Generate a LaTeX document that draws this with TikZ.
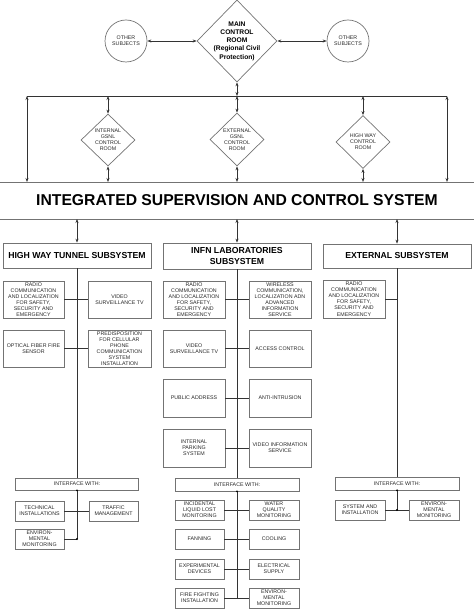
\documentclass[tikz,border=0pt]{standalone}
\usepackage{fontspec}
\setmainfont{Liberation Sans}
\usetikzlibrary{shapes.geometric,arrows.meta}
\begin{document}
\begin{tikzpicture}[x=1pt,y=-1pt,
  box/.style={draw=black!55, line width=0.7pt, align=center, inner sep=0pt, font=\fontsize{5.3}{6.1}\selectfont, text=black!85},
  subbox/.style={box, font=\fontsize{8.7}{10.5}\selectfont\bfseries, text=black},
  dia/.style={draw=black!55, line width=0.7pt, diamond, inner sep=0pt},
  lbl/.style={align=center, inner sep=0pt, font=\fontsize{5.3}{6.1}\selectfont, text=black!85},
  link/.style={draw=black!80, line width=0.8pt},
  dbl/.style={link, {Stealth[length=4pt,width=3pt]}-{Stealth[length=4pt,width=3pt]}},
  jdot/.style={circle, fill=black, inner sep=0pt, minimum size=2.2pt}
]
\useasboundingbox (0,0) rectangle (474,609);

% ---------- top ----------
\node[dia, minimum width=80pt, minimum height=82pt] (main) at (237,41) {};
\node[lbl, font=\fontsize{6.7}{8.3}\selectfont\bfseries, text=black] (maint) at (main.center) {MAIN\\CONTROL\\ROOM\\(Regional Civil\\Protection)};
\node[box, circle, minimum size=42pt] (os1) at (126,41) {OTHER\\SUBJECTS};
\node[box, circle, minimum size=42pt] (os2) at (348,41) {OTHER\\SUBJECTS};
\draw[dbl] (os1.east) -- (main.west);
\draw[dbl] (main.east) -- (os2.west);

\coordinate (busL) at (27,96);
\coordinate (busR) at (447,96);
\coordinate (busC) at (237,96);
\draw[link] (busL) -- (busR);
\draw[dbl] (main.south) -- (busC);

\node[dia, minimum width=54pt, minimum height=52pt] (d1) at (108,140) {};
\node[lbl] (d1t) at (d1.center) {INTERNAL\\GSNL\\CONTROL\\ROOM};
\node[dia, minimum width=54pt, minimum height=53pt] (d2) at (237,139.5) {};
\node[lbl] (d2t) at (d2.center) {EXTERNAL\\GSNL\\CONTROL\\ROOM};
\node[dia, minimum width=54pt, minimum height=53pt] (d3) at (363,142) {};
\node[lbl] (d3t) at (d3.center) {HIGH WAY\\CONTROL\\ROOM};

% band
\coordinate (bTL) at (0,182);
\coordinate (bTR) at (474,182);
\coordinate (bBL) at (0,219);
\coordinate (bBR) at (474,219);
\draw[draw=black!55, line width=0.8pt] (bTL) -- (bTR);
\draw[draw=black!55, line width=0.8pt] (bBL) -- (bBR);
\node[inner sep=0pt, font=\fontsize{15.7}{18}\selectfont\bfseries] (title) at (237,200.5) {INTEGRATED SUPERVISION AND CONTROL SYSTEM};

\draw[dbl] (busL) -- (busL |- bTL);
\draw[dbl] (busR) -- (busR |- bTL);
\draw[dbl] (d1.north |- busC) -- (d1.north);
\draw[dbl] (d2.north |- busC) -- (d2.north);
\draw[dbl] (d3.north |- busC) -- (d3.north);
\draw[dbl] (d1.south) -- (d1.south |- bTL);
\draw[dbl] (d2.south) -- (d2.south |- bTL);
\draw[dbl] (d3.south) -- (d3.south |- bTL);

% ---------- subsystems ----------
\node[subbox, minimum width=148pt, minimum height=25pt] (hwt) at (77,255.5) {HIGH WAY TUNNEL SUBSYSTEM};
\node[subbox, minimum width=148pt, minimum height=26pt] (infn) at (237,256) {INFN LABORATORIES\\SUBSYSTEM};
\node[subbox, minimum width=148pt, minimum height=24pt] (ext) at (397,256) {EXTERNAL SUBSYSTEM};
\draw[dbl] (hwt.north |- bBL) -- (hwt.north);
\draw[dbl] (infn.north |- bBL) -- (infn.north);
\draw[dbl] (ext.north |- bBL) -- (ext.north);

% ---------- high way tunnel column ----------
\node[box, minimum width=61pt, minimum height=37pt] (h1) at (33.5,299.5) {RADIO\\COMMUNICATION\\AND LOCALIZATION\\FOR SAFETY,\\SECURITY AND\\EMERGENCY};
\node[box, minimum width=63pt, minimum height=37pt] (h2) at (119.5,299.5) {VIDEO\\SURVEILLANCE TV};
\node[box, minimum width=61pt, minimum height=37pt] (h3) at (33.5,348.5) {OPTICAL FIBER FIRE\\SENSOR};
\node[box, minimum width=63pt, minimum height=37pt] (h4) at (119.5,348.5) {PREDISPOSITION\\FOR CELLULAR\\PHONE\\COMMUNICATION\\SYSTEM\\INSTALLATION};
\node[box, minimum width=123pt, minimum height=12pt] (hI) at (77,484) {INTERFACE WITH:};
\node[box, minimum width=49pt, minimum height=20pt] (h5) at (39.5,511) {TECHNICAL\\INSTALLATIONS};
\node[box, minimum width=49pt, minimum height=20pt] (h6) at (113.5,511) {TRAFFIC\\MANAGEMENT};
\node[box, minimum width=49pt, minimum height=20pt] (h7) at (39.5,539) {ENVIRON-\\MENTAL\\MONITORING};
\coordinate (hJ) at (77,539);
\draw[link] (hwt.south) -- (hI.north);
\draw[link] (hI.south) -- (hJ);
\draw[link] (h1.east) -- (h2.west);
\draw[link] (h3.east) -- (h4.west);
\draw[link] (h5.east) -- (h6.west);
\draw[link] (h7.east) -- (hJ);
\node[jdot] (hd1) at (hI.south) {};
\node[jdot] (hd2) at (hJ) {};

% ---------- INFN column ----------
\node[box, minimum width=62pt, minimum height=37pt] (m1) at (194,299.5) {RADIO\\COMMUNICATION\\AND LOCALIZATION\\FOR SAFETY,\\SECURITY AND\\EMERGENCY};
\node[box, minimum width=62pt, minimum height=37pt] (m2) at (280,299.5) {WIRELESS\\COMMUNICATION,\\LOCALIZATION ADN\\ADVANCED\\INFORMATION\\SERVICE};
\node[box, minimum width=62pt, minimum height=37pt] (m3) at (194,348.5) {VIDEO\\SURVEILLANCE TV};
\node[box, minimum width=62pt, minimum height=37pt] (m4) at (280,348.5) {ACCESS CONTROL};
\node[box, minimum width=62pt, minimum height=38pt] (m5) at (194,398) {PUBLIC ADDRESS};
\node[box, minimum width=62pt, minimum height=38pt] (m6) at (280,398) {ANTI-INTRUSION};
\node[box, minimum width=62pt, minimum height=38pt] (m7) at (194,448) {INTERNAL\\PARKING\\SYSTEM};
\node[box, minimum width=62pt, minimum height=38pt] (m8) at (280,448) {VIDEO INFORMATION\\SERVICE};
\node[box, minimum width=124pt, minimum height=13pt] (mI) at (237,484.5) {INTERFACE WITH:};
\node[box, minimum width=49pt, minimum height=20pt] (n1) at (199.5,510) {INCIDENTAL\\LIQUID LOST\\MONITORING};
\node[box, minimum width=50pt, minimum height=20pt] (n2) at (274,510) {WATER\\QUALITY\\MONITORING};
\node[box, minimum width=49pt, minimum height=20pt] (n3) at (199.5,539) {FANNING};
\node[box, minimum width=50pt, minimum height=20pt] (n4) at (274,539) {COOLING};
\node[box, minimum width=49pt, minimum height=20pt] (n5) at (199.5,569) {EXPERIMENTAL\\DEVICES};
\node[box, minimum width=50pt, minimum height=20pt] (n6) at (274,569) {ELECTRICAL\\SUPPLY};
\node[box, minimum width=49pt, minimum height=20pt] (n7) at (199.5,598) {FIRE FIGHTING\\INSTALLATION};
\node[box, minimum width=50pt, minimum height=20pt] (n8) at (274,598) {ENVIRON-\\MENTAL\\MONITORING};
\coordinate (mJ) at (237,598);
\draw[link] (infn.south) -- (mI.north);
\draw[link] (mI.south) -- (mJ);
\draw[link] (m1.east) -- (m2.west);
\draw[link] (m3.east) -- (m4.west);
\draw[link] (m5.east) -- (m6.west);
\draw[link] (m7.east) -- (m8.west);
\draw[link] (n1.east) -- (n2.west);
\draw[link] (n3.east) -- (n4.west);
\draw[link] (n5.east) -- (n6.west);
\draw[link] (n7.east) -- (n8.west);
\node[jdot] (md1) at (mI.south) {};

% ---------- external column ----------
\node[box, minimum width=62pt, minimum height=38pt] (e1) at (354,299) {RADIO\\COMMUNICATION\\AND LOCALIZATION\\FOR SAFETY,\\SECURITY AND\\EMERGENCY};
\node[box, minimum width=124pt, minimum height=13pt] (eI) at (397,483.5) {INTERFACE WITH:};
\node[box, minimum width=50pt, minimum height=20pt] (e2) at (360,510) {SYSTEM AND\\INSTALLATION};
\node[box, minimum width=50pt, minimum height=20pt] (e3) at (434,510) {ENVIRON-\\MENTAL\\MONITORING};
\coordinate (eJ) at (397,510);
\coordinate (eK) at (397,299);
\draw[link] (ext.south) -- (eI.north);
\draw[link] (eI.south) -- (eJ);
\draw[link] (e1.east) -- (eK);
\draw[link] (e2.east) -- (e3.west);
\node[jdot] (ed1) at (eI.south) {};
\node[jdot] (ed2) at (eJ) {};
\end{tikzpicture}
\end{document}
